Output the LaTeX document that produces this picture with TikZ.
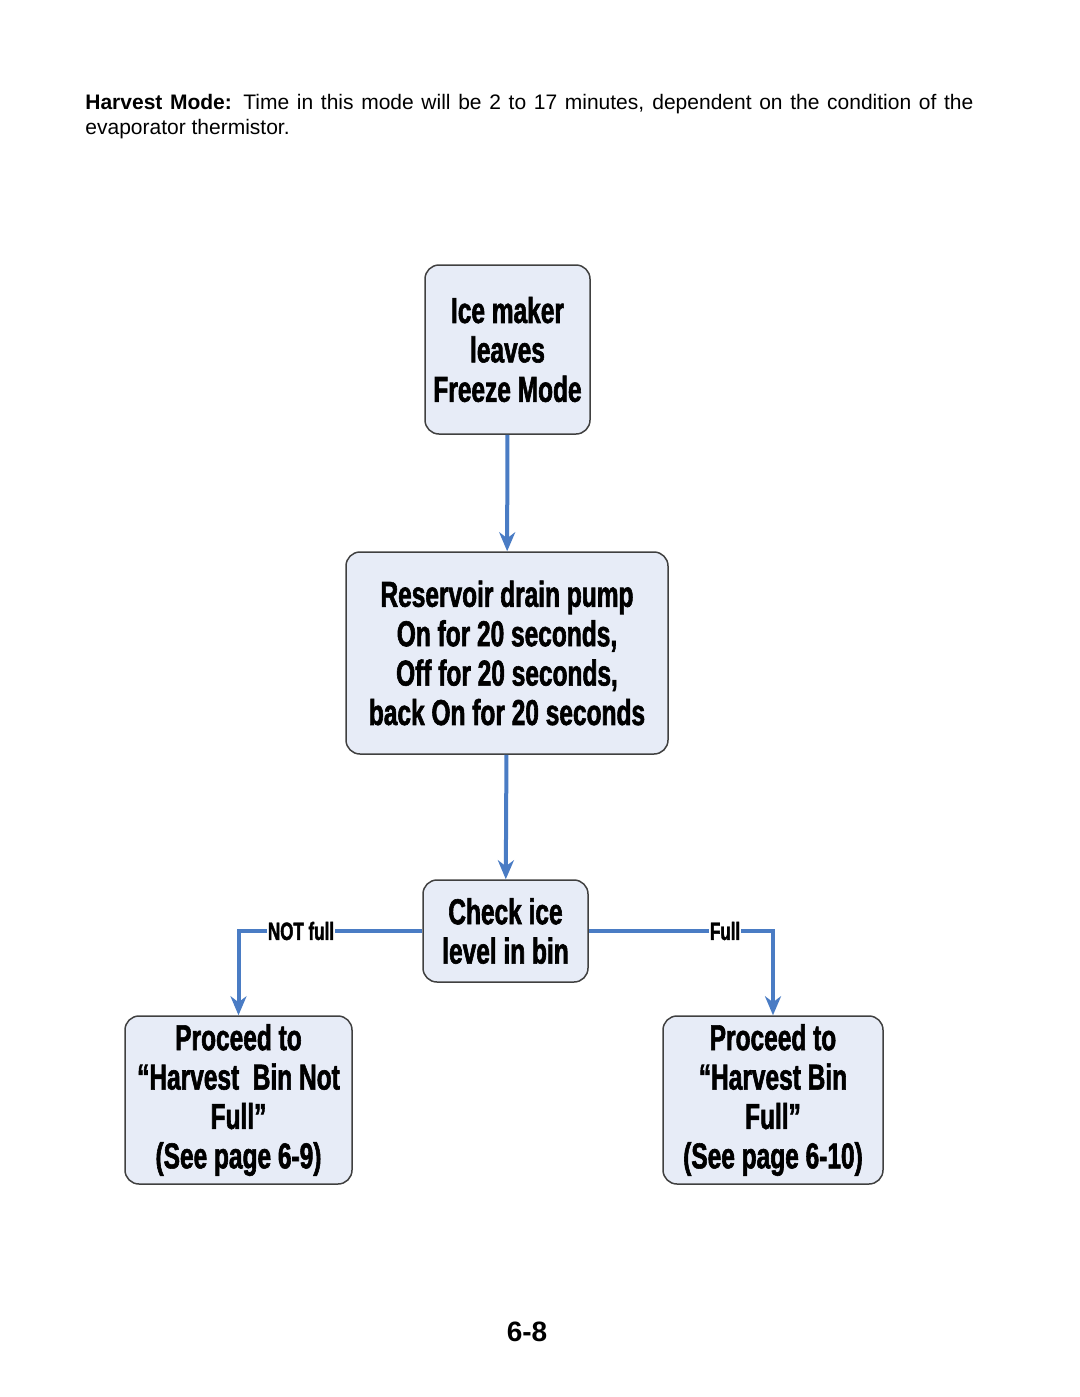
\documentclass[tikz,border=0pt]{standalone}
\usepackage{fontspec}
\setmainfont{Liberation Sans}
\newfontfamily\boxfont[Extension=.ttf, UprightFont=*-Bold, FakeStretch=0.68, FakeBold=1.6]{LiberationSans}
\usetikzlibrary{arrows.meta}

\newlength{\du}
\setlength{\du}{0.5pt}

\definecolor{boxfillcolor}{rgb}{0.906, 0.925, 0.969}
\definecolor{boxlinecolor}{rgb}{0.250, 0.250, 0.250}
\definecolor{flowlinecolor}{rgb}{0.290, 0.486, 0.769}

\tikzset{
  flowbox/.style={draw=boxlinecolor, fill=boxfillcolor, line width=1.5\du,
    rounded corners=14\du, align=center, inner sep=0pt,
    font=\boxfont\fontsize{18}{19.7}\selectfont},
  flowline/.style={draw=flowlinecolor, line width=4\du,
    -{Stealth[length=9.5pt,width=8pt,inset=3pt]}},
  flowlabel/.style={fill=white, inner sep=1\du,
    font=\boxfont\fontsize{12.5}{14}\selectfont}
}

\begin{document}
\begin{tikzpicture}
\pgftransformxscale{1.000000}
\pgftransformyscale{-1.000000}
\useasboundingbox (0\du,0\du) rectangle (1080\du,1397\du);
% intro text
\node[anchor=north west, inner sep=0pt, text width=888\du, align=justify,
  font=\fontsize{10.5}{12.5}\selectfont] (intro) at (85\du,94\du)
  {\textbf{Harvest Mode:} Time in this mode will be 2 to 17 minutes, dependent on the condition of the evaporator thermistor.};
% boxes
\node[flowbox, minimum width=165\du, minimum height=169\du] (leave) at (507.5\du,349.5\du)
  {Ice maker\\leaves\\Freeze Mode};
\node[flowbox, minimum width=322\du, minimum height=202\du] (drain) at (507\du,653\du)
  {Reservoir drain pump\\On for 20 seconds,\\Off for 20 seconds,\\back On for 20 seconds};
\node[flowbox, minimum width=165\du, minimum height=102\du] (check) at (505.5\du,931\du)
  {Check ice\\level in bin};
\node[flowbox, minimum width=227\du, minimum height=168\du] (notfull) at (238.5\du,1100\du)
  {Proceed to\\“Harvest\ \ Bin Not\\Full”\\(See page 6-9)};
\node[flowbox, minimum width=220\du, minimum height=168\du] (full) at (773\du,1100\du)
  {Proceed to\\“Harvest Bin\\Full”\\(See page 6-10)};
% connectors
\draw[flowline] (leave) -- (drain);
\draw[flowline] (drain) -- (check);
\draw[flowline] (check.west) -| node[flowlabel, pos=0.33] {NOT full} (notfull.north);
\draw[flowline] (check.east) -| node[flowlabel, pos=0.37] {Full} (full.north);
% page number
\node[font=\bfseries\fontsize{14}{16}\selectfont] (pagenum) at (527\du,1332\du) {6-8};
\end{tikzpicture}
\end{document}
